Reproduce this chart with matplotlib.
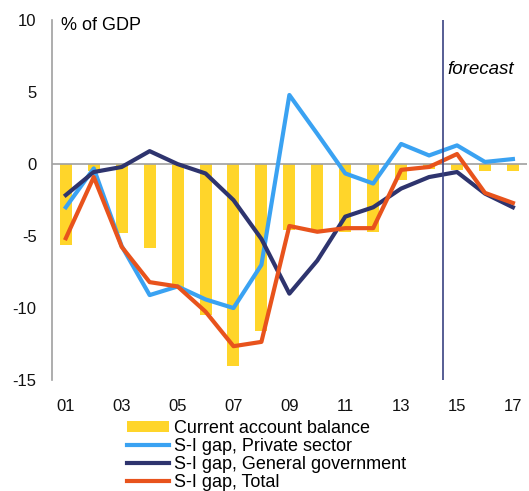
import matplotlib.pyplot as plt
import numpy as np

plt.rcParams['font.family'] = ['Liberation Sans', 'DejaVu Sans']

# years 2001-2017, tick labels as two digits
years = list(range(1, 18))
tick_years = [1, 3, 5, 7, 9, 11, 13, 15, 17]
tick_labels = ["01", "03", "05", "07", "09", "11", "13", "15", "17"]

current_account = [-5.6, -0.5, -4.8, -5.8, -8.7, -10.5, -14.0, -11.6, -4.6,
                   -4.7, -4.7, -4.7, -1.1, -0.35, -0.4, -0.45, -0.45]
private_gap = [-3.0, -0.3, -5.7, -9.1, -8.5, -9.4, -10.0, -7.0, 4.8,
               2.1, -0.65, -1.35, 1.4, 0.6, 1.3, 0.15, 0.35]
government_gap = [-2.15, -0.55, -0.2, 0.9, 0.0, -0.65, -2.5, -5.2, -9.0,
                  -6.7, -3.65, -3.0, -1.7, -0.9, -0.55, -2.05, -3.0]
total_gap = [-5.15, -0.9, -5.75, -8.2, -8.5, -10.25, -12.65, -12.35, -4.3,
             -4.7, -4.45, -4.45, -0.4, -0.2, 0.7, -2.0, -2.7]
forecast_start = 14.5

yellow = "#FFD52A"
light_blue = "#3AA2F2"
navy = "#2E346E"
orange = "#E8531C"

fig = plt.figure(figsize=(5.29, 4.91), dpi=100)
ax = fig.add_axes([0.098, 0.226, 0.898, 0.733])

bars = ax.bar(years, current_account, width=0.43, color=yellow, zorder=1)
ax.axhline(0, color="#A0A0A0", linewidth=1.2, zorder=2)
l1, = ax.plot(years, private_gap, color=light_blue, linewidth=3, zorder=3)
l2, = ax.plot(years, government_gap, color=navy, linewidth=3, zorder=4)
l3, = ax.plot(years, total_gap, color=orange, linewidth=3, zorder=5)
ax.axvline(forecast_start, color="#3A4282", linewidth=1.2, zorder=6)

ax.set_xlim(0.5, 17.5)
ax.set_ylim(-15, 10)
ax.set_yticks([-15, -10, -5, 0, 5, 10])
ax.set_yticklabels(["-15", "-10", "-5", "0", "5", "10"])
ax.set_xticks(tick_years)
ax.set_xticklabels(tick_labels)
ax.tick_params(axis="both", length=0, labelsize=12, colors="#111111")
ax.tick_params(axis="y", pad=11)
ax.tick_params(axis="x", pad=14)

for side in ["top", "right", "bottom"]:
    ax.spines[side].set_visible(False)
ax.spines["left"].set_color("#A0A0A0")
ax.spines["left"].set_linewidth(1.2)

ax.text(0.02, 0.986, "% of GDP", transform=ax.transAxes, fontsize=13, va="center", ha="left")
ax.text(14.67, 6.6, "forecast", fontsize=13.5, style="italic", va="center", ha="left")

fig.legend([bars, l1, l2, l3],
           ["Current account balance", "S-I gap, Private sector",
            "S-I gap, General government", "S-I gap, Total"],
           loc="upper left", bbox_to_anchor=(127 / 529, 1 - 420 / 491),
           frameon=False, fontsize=13, borderpad=0, borderaxespad=0,
           labelspacing=0.06, handlelength=2.3, handletextpad=0.3, handleheight=0.6)

fig.savefig("out.png", dpi=100)
